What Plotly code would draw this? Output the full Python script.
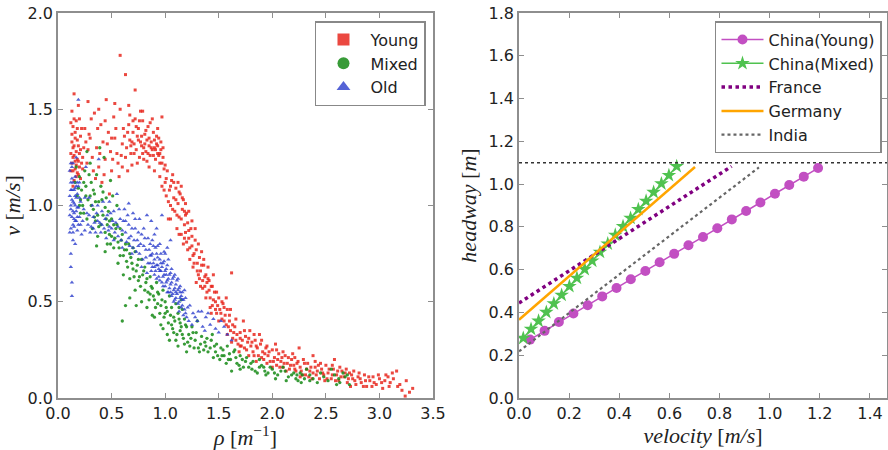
import plotly.graph_objects as go

# ---------------- Left panel data (density rho vs speed v) ----------------
young_rho = [0.13,0.14,0.15,0.16,0.14,0.13,0.15,0.17,0.18,0.16,0.19,0.20,0.21,0.17,0.22,0.18,0.15,0.24,0.23,0.26,0.19,0.14,0.20,0.25,0.28,0.16,
             0.30,0.32,0.34,0.36,0.38,0.40,0.42,0.44,0.45,0.47,0.49,0.50,0.52,0.53,0.55,0.56,0.58,0.58,0.63,0.72,0.35,0.41,0.28,0.48,0.60,0.61,
             0.62,0.64,0.66,0.67,0.68,0.70,0.71,0.72,0.73,0.74,0.75,0.76,0.77,0.78,0.79,0.80,0.81,0.82,0.83,0.84,0.85,0.86,0.87,0.88,0.89,0.90,
             0.91,0.92,0.93,0.94,0.95,0.96,0.98,0.99,0.88,0.69,0.65,0.97,
             0.95,0.97,1.00,1.01,1.02,1.04,1.05,1.06,1.08,1.09,1.10,1.12,1.13,1.14,1.16,1.17,1.18,1.20,1.03,1.11,
             1.15,1.17,1.19,1.21,1.22,1.23,1.25,1.26,1.27,1.28,1.30,1.31,1.32,1.33,1.35,1.36,1.37,1.38,1.24,1.29,
             1.39,1.40,1.42,1.43,1.44,1.46,1.47,1.48,1.50,1.51,1.53,1.54,1.56,1.57,1.58,1.60,1.62,1.45,
             1.61,1.63,1.65,1.67,1.68,1.70,1.72,1.74,1.75,1.77,1.79,1.80,1.82,1.84,1.86,1.87,1.89,1.91,1.92,1.94,1.96,1.98,2.00,2.02,2.04,2.06,
             2.08,2.10,2.12,2.14,2.16,2.18,1.73,1.88,2.03,1.69,
             2.20,2.22,2.24,2.26,2.28,2.30,2.32,2.34,2.36,2.38,2.40,2.42,2.44,2.46,2.48,2.50,2.52,2.55,2.57,2.60,2.62,2.65,2.67,2.70,2.72,2.75,
             2.78,2.38,2.25,2.58,
             2.80,2.83,2.86,2.88,2.91,2.94,2.97,3.00,3.03,3.06,3.10,3.13,3.17,3.21,3.25,3.28,3.31,3.16,3.24]
young_v = [1.22,1.30,1.26,1.35,1.41,1.49,1.58,1.28,1.24,1.19,1.31,1.27,1.36,1.44,1.22,1.17,1.13,1.30,1.25,1.33,1.52,1.10,1.20,1.40,1.29,1.38,
           1.35,1.25,1.48,1.30,1.20,1.42,1.33,1.24,1.55,1.38,1.28,1.18,1.46,1.35,1.27,1.22,1.50,1.78,1.68,1.60,1.14,1.12,1.54,1.06,1.32,1.40,
           1.36,1.30,1.42,1.34,1.27,1.38,1.32,1.45,1.29,1.36,1.40,1.25,1.33,1.31,1.44,1.30,1.37,1.28,1.34,1.41,1.31,1.26,1.33,1.29,1.38,1.30,
           1.24,1.32,1.27,1.35,1.22,1.29,1.25,1.19,1.45,1.21,1.18,1.46,
           1.15,1.10,1.12,1.05,1.18,1.08,1.00,1.13,1.04,0.97,1.09,1.01,0.94,1.06,0.98,1.03,0.90,0.96,0.93,0.88,
           0.85,0.80,0.86,0.77,0.83,0.72,0.79,0.68,0.75,0.82,0.70,0.64,0.73,0.66,0.61,0.69,0.58,0.64,0.88,0.60,
           0.55,0.62,0.52,0.58,0.48,0.55,0.50,0.44,0.52,0.46,0.41,0.49,0.43,0.38,0.46,0.40,0.65,0.64,
           0.35,0.31,0.37,0.33,0.28,0.34,0.30,0.26,0.32,0.29,0.35,0.27,0.24,0.30,0.26,0.22,0.28,0.24,0.20,0.26,0.22,0.19,0.25,0.21,0.17,0.23,
           0.19,0.16,0.22,0.18,0.15,0.20,0.40,0.33,0.28,0.24,
           0.17,0.14,0.19,0.16,0.12,0.18,0.15,0.11,0.16,0.13,0.19,0.14,0.10,0.15,0.12,0.17,0.13,0.10,0.15,0.12,0.09,0.14,0.11,0.08,0.13,0.10,
           0.07,0.22,0.26,0.20,
           0.11,0.08,0.12,0.06,0.09,0.11,0.07,0.10,0.05,0.12,0.08,0.10,0.06,0.04,0.09,0.03,0.05,0.14,0.01]
young_rho_b = [0.12,0.13,0.14,0.15,0.17,0.18,0.19,0.21,0.22,0.23,0.12,0.16,0.20,0.27,0.29,0.31,0.33,0.37,0.39,0.43,0.46,0.51,0.54,0.57,0.59,
               0.63,0.65,0.67,0.69,0.71,0.73,0.75,0.76,0.78,0.80,0.81,0.82,0.84,0.85,0.86,0.87,0.89,0.90,0.91,0.92,0.93,0.94,0.96,0.97,0.98,
               0.74,0.79,0.83,0.70,0.77,
               0.99,1.01,1.03,1.05,1.07,1.08,1.10,1.11,1.13,1.15,1.16,1.18,1.19,1.21,1.22,1.20,1.23,1.25,1.27,1.29,1.30,1.32,1.34,1.35,1.37,
               1.39,1.41,1.42,1.45,1.47,1.49,1.52,1.55,1.55,1.59,1.60,1.63,1.64,1.66,1.70,1.71,1.76,1.78,1.81,1.83,1.85,1.90,1.93,1.95,1.97,
               2.01,2.05,2.07,2.09,2.11,2.13,2.17,2.19,2.21,2.23,2.27,2.29,2.31,2.35,2.37,2.41,2.43,2.47,2.49,2.53,2.56,2.59,2.61,2.64,2.68,
               2.71,2.74,2.77,2.82,2.85,2.90,2.95,2.99,3.05,3.09,3.12]
young_v_b = [1.18,1.33,1.25,1.45,1.21,1.34,1.16,1.29,1.40,1.19,1.27,1.23,1.45,1.22,1.37,1.45,1.18,1.40,1.27,1.16,1.32,1.24,1.40,1.15,1.26,
             1.25,1.38,1.47,1.33,1.27,1.41,1.34,1.44,1.36,1.24,1.32,1.39,1.27,1.35,1.43,1.30,1.26,1.34,1.29,1.36,1.31,1.26,1.33,1.22,1.30,
             1.22,1.27,1.23,1.44,1.49,
             1.08,1.14,1.02,1.10,0.98,1.12,1.03,0.95,1.07,0.93,1.04,0.97,1.01,0.91,0.87,0.81,0.78,0.84,0.70,0.77,0.66,0.62,0.69,0.57,0.63,
             0.60,0.56,0.47,0.51,0.46,0.48,0.44,0.40,0.47,0.37,0.43,0.38,0.34,0.30,0.31,0.27,0.25,0.31,0.29,0.22,0.27,0.21,0.23,0.18,0.24,
             0.19,0.20,0.16,0.21,0.18,0.14,0.17,0.23,0.15,0.18,0.14,0.20,0.12,0.14,0.10,0.12,0.17,0.13,0.09,0.15,0.12,0.09,0.14,0.11,0.13,
             0.10,0.12,0.09,0.10,0.06,0.11,0.08,0.12,0.09,0.06,0.13]
young_rho_c = [1.05,1.12,1.07,1.15,1.19,1.22,1.25,1.28,1.13,1.18,1.26,1.31,1.34,1.36,1.40,1.33,1.38,1.41,1.44,1.48,1.43,1.50,1.53,1.57,1.61,
               1.58,1.62,1.66,1.70,1.74,1.78,1.83,1.85,1.90,1.95,2.00,2.04,2.10,2.15,2.21,2.26,2.33,2.40,2.45,2.51,2.56,2.63,2.69,2.76,2.81,
               2.87,2.93,3.02,3.08,3.19,2.73,0.85,0.90,0.95,1.00,0.93,0.68,0.60,0.44,0.50,0.38,0.53,0.66,0.79,0.13,0.14,0.17,0.15,0.19,0.21,
               0.18,0.12]
young_v_c = [0.93,1.12,1.16,1.10,0.95,0.97,0.92,0.88,0.85,0.83,0.74,0.80,0.76,0.72,0.68,0.58,0.52,0.61,0.58,0.55,0.44,0.40,0.50,0.52,0.46,
             0.33,0.29,0.41,0.27,0.35,0.22,0.33,0.19,0.30,0.27,0.16,0.25,0.24,0.21,0.21,0.11,0.18,0.16,0.18,0.10,0.17,0.16,0.15,0.14,0.13,
             0.09,0.06,0.08,0.11,0.07,0.06,1.20,1.18,1.27,1.21,1.40,1.31,1.20,1.44,1.35,1.50,1.53,1.52,1.49,1.37,1.18,1.15,1.31,1.23,1.14,
             1.40,1.43]

mixed_rho = [0.16,0.18,0.20,0.22,0.23,0.25,0.26,0.28,0.30,0.31,0.33,0.34,0.36,0.38,0.40,0.42,0.43,0.45,0.47,0.49,0.21,0.27,0.39,
             0.32,0.35,0.37,0.40,0.44,0.46,0.48,0.50,0.52,0.54,0.56,0.58,0.60,0.62,0.64,0.66,0.68,0.70,0.72,0.74,0.76,0.78,0.55,0.51,
             0.80,0.82,0.84,0.86,0.88,0.90,0.92,0.94,0.96,0.98,1.00,1.02,1.04,1.06,1.08,1.10,1.12,1.14,1.16,1.18,0.60,0.73,0.88,
             0.98,1.02,1.06,1.10,1.14,1.18,1.22,1.25,1.28,1.31,1.34,1.37,1.40,1.43,1.46,1.49,1.20,1.30,
             1.52,1.55,1.58,1.61,1.64,1.67,1.70,1.73,1.76,1.80,1.84,1.88,1.92,1.96,1.62,
             2.00,2.05,2.10,2.15,2.20,2.24,2.28,2.32,2.38,2.45,2.52,2.58,2.63,2.68,2.72,2.55]
mixed_v = [1.12,1.05,1.15,1.08,1.00,1.18,1.10,1.03,1.22,1.12,0.98,1.06,1.16,1.02,1.10,0.95,1.25,1.04,0.97,1.13,0.96,1.28,1.30,
           0.88,0.92,0.84,0.90,0.86,0.80,0.92,0.84,0.78,0.88,0.81,0.74,0.85,0.77,0.71,0.80,0.73,0.67,0.76,0.69,0.63,0.72,1.00,1.05,
           0.66,0.60,0.55,0.63,0.57,0.51,0.60,0.54,0.48,0.56,0.50,0.45,0.53,0.47,0.42,0.49,0.44,0.39,0.46,0.41,0.40,0.48,0.43,
           0.36,0.33,0.38,0.30,0.35,0.28,0.33,0.37,0.30,0.26,0.32,0.29,0.24,0.30,0.27,0.22,0.24,0.40,
           0.26,0.22,0.27,0.20,0.24,0.18,0.22,0.16,0.21,0.18,0.14,0.20,0.16,0.13,0.14,
           0.15,0.12,0.16,0.11,0.13,0.09,0.12,0.15,0.10,0.13,0.09,0.12,0.08,0.11,0.07,0.15]
mixed_rho_b = [0.17,0.19,0.21,0.24,0.26,0.29,0.31,0.33,0.35,0.37,0.41,0.44,0.46,0.48,0.50,0.53,0.55,0.57,0.59,0.61,0.63,0.65,0.67,0.69,
               0.71,0.73,0.75,0.77,0.79,0.81,0.83,0.85,0.87,0.89,0.91,0.93,0.95,0.97,0.99,1.01,1.03,1.05,1.07,1.09,1.11,1.13,1.15,1.17,
               1.19,1.21,1.24,1.27,1.29,1.33,1.36,1.39,1.42,1.45,1.48,1.51,1.54,1.57,1.60,1.66,1.69,1.72,1.78,1.82,1.86,1.90,1.94,1.98,
               2.03,2.08,2.13,2.18,2.22,2.26,2.30,2.35,2.42,2.48,2.62,2.66]
mixed_v_b = [1.20,1.09,1.03,1.12,1.05,1.16,1.00,1.08,1.02,0.95,1.03,0.99,0.90,0.85,0.93,0.83,0.90,0.78,0.82,0.74,0.80,0.68,0.75,0.70,
             0.63,0.66,0.72,0.58,0.64,0.56,0.62,0.51,0.58,0.53,0.47,0.55,0.44,0.51,0.42,0.47,0.39,0.43,0.36,0.40,0.33,0.41,0.37,0.31,
             0.38,0.29,0.31,0.26,0.34,0.28,0.25,0.31,0.26,0.21,0.28,0.20,0.25,0.18,0.23,0.21,0.17,0.20,0.16,0.19,0.13,0.17,0.12,0.16,
             0.10,0.14,0.09,0.12,0.10,0.13,0.10,0.12,0.08,0.11,0.10,0.13]
mixed_rho_c = [0.20,0.24,0.27,0.30,0.34,0.38,0.42,0.45,0.49,0.52,0.56,0.58,0.61,0.64,0.67,0.70,0.72,0.75,0.78,0.81,0.83,0.86,0.90,0.93,
               0.96,1.00,1.04,1.08,1.12,1.16,1.20,1.23,1.26,1.32,1.38,1.44,1.47,1.53,1.59,1.65,1.70,1.75,1.81,1.88,1.93,2.02,2.12,2.23,
               2.27,2.35,2.60,2.70,0.36,0.44,0.63,0.67,1.15,1.13]
mixed_v_c = [1.00,0.96,0.93,1.05,0.94,0.89,1.07,0.93,0.80,0.90,0.70,0.88,0.64,0.77,0.62,0.78,0.56,0.61,0.50,0.68,0.47,0.54,0.42,0.49,
             0.38,0.44,0.30,0.34,0.27,0.33,0.37,0.27,0.34,0.24,0.27,0.33,0.24,0.22,0.20,0.25,0.15,0.19,0.15,0.16,0.14,0.13,0.14,0.12,
             0.08,0.09,0.07,0.12,0.79,0.76,0.48,0.52,0.51,0.47]

old_rho = [0.11,0.12,0.12,0.13,0.13,0.14,0.14,0.15,0.15,0.16,0.16,0.17,0.17,0.18,0.18,0.19,0.19,0.20,0.13,0.13,0.12,0.14,0.19,0.11,0.16,
           0.21,0.23,0.25,0.27,0.29,0.31,0.33,0.35,0.37,0.39,0.41,0.43,0.26,0.22,0.30,0.38,
           0.46,0.48,0.50,0.52,0.54,0.56,0.58,0.60,0.62,0.64,0.66,0.68,0.70,0.72,0.74,0.76,0.78,0.80,0.82,0.84,0.55,0.70,0.83,
           0.85,0.86,0.87,0.88,0.89,0.90,0.91,0.92,0.93,0.94,0.95,0.96,0.97,0.98,0.99,1.00,1.01,1.02,1.03,1.04,1.05,1.06,1.07,1.08,
           1.09,1.10,1.11,1.12,1.13,1.14,1.15,1.16,0.95,1.00,
           1.18,1.20,1.23,1.26,1.30,1.34,1.38,1.42,1.47,1.52,1.58,1.62]
old_v = [1.05,0.98,1.12,0.94,1.20,1.02,0.90,1.08,0.96,1.15,1.00,0.92,1.25,1.06,0.87,0.99,1.10,0.94,0.60,0.53,0.75,0.82,1.55,1.18,0.80,
         1.02,0.92,0.87,0.96,1.04,0.89,0.94,0.86,1.00,0.91,0.97,0.88,1.20,0.85,0.86,1.24,
         0.95,1.02,0.88,0.97,0.91,0.84,0.93,0.87,0.98,0.81,0.90,0.84,0.78,0.88,0.82,0.75,0.85,0.79,0.73,0.83,1.06,0.96,0.95,
         0.77,0.70,0.74,0.68,0.79,0.72,0.66,0.75,0.69,0.63,0.72,0.66,0.60,0.70,0.64,0.58,0.67,0.61,0.55,0.64,0.59,0.53,0.62,0.56,
         0.51,0.59,0.54,0.49,0.57,0.52,0.47,0.55,0.80,0.75,
         0.46,0.42,0.48,0.44,0.40,0.45,0.42,0.38,0.36,0.40,0.33,0.30]
old_rho_b = [0.11,0.12,0.12,0.13,0.13,0.14,0.14,0.15,0.15,0.16,0.17,0.17,0.18,0.18,0.19,0.20,0.11,0.12,0.24,0.28,0.32,0.34,0.36,0.40,
             0.42,0.44,0.47,0.49,0.51,0.53,0.57,0.59,0.61,0.63,0.65,0.67,0.69,0.71,0.73,0.75,0.77,0.79,0.81,0.82,0.84,0.86,0.87,0.88,
             0.89,0.90,0.91,0.92,0.93,0.94,0.95,0.96,0.97,0.98,0.99,1.00,1.01,1.02,1.03,1.04,1.05,1.06,1.07,1.08,1.09,1.10,1.11,1.12,
             1.13,1.14,1.15,1.16,1.17,1.18,1.19,0.97,0.92,1.05,1.21,1.28,1.35,1.45,1.55]
old_v_b = [0.95,1.08,0.88,1.03,1.14,0.97,1.22,0.89,1.01,1.09,0.97,1.04,1.12,0.94,0.90,1.04,0.86,0.68,0.98,0.90,1.00,0.91,0.96,0.86,
           1.02,0.93,0.87,0.96,0.92,0.86,0.98,0.82,0.92,0.86,0.95,0.79,0.88,0.82,0.76,0.86,0.80,0.72,0.83,0.77,0.70,0.80,0.66,0.75,
           0.70,0.64,0.78,0.69,0.73,0.67,0.61,0.75,0.68,0.63,0.71,0.66,0.60,0.69,0.62,0.57,0.65,0.60,0.54,0.63,0.57,0.52,0.61,0.56,
           0.50,0.58,0.53,0.48,0.51,0.56,0.44,0.95,0.88,0.82,0.47,0.42,0.37,0.41,0.37]
old_rho_c = [0.12,0.13,0.14,0.15,0.16,0.17,0.18,0.20,0.21,0.14,0.12,0.16,0.25,0.29,0.33,0.37,0.41,0.45,0.48,0.52,0.56,0.60,0.63,0.66,
             0.69,0.72,0.75,0.78,0.80,0.83,0.86,0.88,0.90,0.92,0.93,0.95,0.96,0.98,0.99,1.01,1.02,1.03,1.05,1.06,1.08,1.09,1.10,1.12,
             1.13,1.14,1.16,1.17,1.19,1.22,1.25,1.31,1.37,1.40,1.50,0.87,0.90,1.02,0.76,0.66]
old_v_c = [1.00,1.08,1.12,0.93,1.05,1.10,0.99,1.12,0.90,0.86,1.22,0.92,1.04,0.95,0.88,0.92,0.90,0.83,0.89,0.82,0.89,0.78,0.92,0.83,
           0.75,0.93,0.79,0.68,0.88,0.65,0.74,0.82,0.68,0.62,0.79,0.66,0.70,0.58,0.76,0.64,0.55,0.72,0.55,0.67,0.50,0.64,0.55,0.62,
           0.45,0.55,0.51,0.43,0.52,0.40,0.38,0.45,0.35,0.44,0.34,0.92,0.85,0.78,0.93,1.01]

# ---------------- Right panel data (velocity vs headway) ----------------
cy_vel = [0.044,0.102,0.159,0.217,0.274,0.332,0.389,0.446,0.504,0.561,0.619,0.676,0.734,0.791,0.849,0.906,0.963,1.021,1.078,1.136,1.193]
cy_head = [0.273,0.314,0.355,0.395,0.434,0.475,0.514,0.555,0.594,0.635,0.674,0.714,0.753,0.794,0.835,0.874,0.914,0.955,0.996,1.035,1.075]

cm_vel = [0.017,0.048,0.078,0.109,0.139,0.170,0.201,0.231,0.262,0.292,0.323,0.354,0.384,0.415,0.445,0.476,0.507,0.537,0.568,0.598,0.629]
cm_head = [0.280,0.322,0.360,0.401,0.441,0.481,0.522,0.561,0.602,0.641,0.682,0.721,0.762,0.802,0.841,0.882,0.921,0.962,1.002,1.041,1.083]

fr_vel = [0.0, 0.848]
fr_head = [0.444, 1.083]
de_vel = [0.0, 0.702]
de_head = [0.366, 1.080]
in_vel = [0.0, 0.957]
in_head = [0.218, 1.078]
max_headway = 1.1

AX_LINE = "#8e8e8e"
TICK_FONT = dict(family="DejaVu Sans", size=16, color="#222222")
TITLE_FONT = dict(family="Liberation Serif", size=22, color="#222222")
MS = 3.0

fig = go.Figure()

# left scatter
fig.add_trace(go.Scatter(x=young_rho + young_rho_b + young_rho_c, y=young_v + young_v_b + young_v_c,
                         mode="markers", name="Young",
                         marker=dict(symbol="square", size=MS, color="#e8281e", opacity=0.85),
                         xaxis="x", yaxis="y", legend="legend"))
fig.add_trace(go.Scatter(x=mixed_rho + mixed_rho_b + mixed_rho_c, y=mixed_v + mixed_v_b + mixed_v_c,
                         mode="markers", name="Mixed",
                         marker=dict(symbol="circle", size=MS + 0.3, color="#158a15", opacity=0.85),
                         xaxis="x", yaxis="y", legend="legend"))
fig.add_trace(go.Scatter(x=old_rho + old_rho_b + old_rho_c, y=old_v + old_v_b + old_v_c,
                         mode="markers", name="Old",
                         marker=dict(symbol="triangle-up", size=MS + 1.0, color="#2a3ccc", opacity=0.8),
                         xaxis="x", yaxis="y", legend="legend"))

# right lines
fig.add_trace(go.Scatter(x=cy_vel, y=cy_head, mode="lines+markers", name="China(Young)",
                         line=dict(color="#c24fc2", width=1.5),
                         marker=dict(symbol="circle", size=10, color="#c24fc2"),
                         xaxis="x2", yaxis="y2", legend="legend2"))
fig.add_trace(go.Scatter(x=cm_vel, y=cm_head, mode="lines+markers", name="China(Mixed)",
                         line=dict(color="#4fc24f", width=1.5),
                         marker=dict(symbol="star", size=11, color="#4fc24f"),
                         xaxis="x2", yaxis="y2", legend="legend2"))
fig.add_trace(go.Scatter(x=fr_vel, y=fr_head, mode="lines", name="France",
                         line=dict(color="#800080", width=3.5, dash="dot"),
                         xaxis="x2", yaxis="y2", legend="legend2"))
fig.add_trace(go.Scatter(x=de_vel, y=de_head, mode="lines", name="Germany",
                         line=dict(color="#ffa500", width=2.5),
                         xaxis="x2", yaxis="y2", legend="legend2"))
fig.add_trace(go.Scatter(x=in_vel, y=in_head, mode="lines", name="India",
                         line=dict(color="#666666", width=2.2, dash="dot"),
                         xaxis="x2", yaxis="y2", legend="legend2"))

fig.add_shape(type="line", xref="x2 domain", yref="y2", x0=0, x1=1,
              y0=max_headway, y1=max_headway,
              line=dict(color="#333333", width=1.5, dash="dot"))

common_axis = dict(showline=True, linecolor=AX_LINE, linewidth=1.5, mirror="ticks",
                   ticks="inside", ticklen=5, tickcolor=AX_LINE, showgrid=False,
                   zeroline=False, tickfont=TICK_FONT)

fig.update_layout(
    width=888, height=450,
    margin=dict(l=58, r=1, t=13, b=52, autoexpand=False),
    paper_bgcolor="white", plot_bgcolor="white",
    xaxis=dict(domain=[0, 0.4524], range=[0, 3.5], dtick=0.5, tickformat=".1f",
               anchor="y",
               title=dict(text="<i>ρ</i> [<i>m</i><sup>−1</sup>]", font=TITLE_FONT, standoff=4),
               **common_axis),
    yaxis=dict(domain=[0, 1], range=[0, 2.0], dtick=0.5, tickformat=".1f", anchor="x",
               title=dict(text="<i>v</i> [<i>m/s</i>]", font=TITLE_FONT, standoff=10),
               **common_axis),
    xaxis2=dict(domain=[0.5561, 1.0], range=[0, 1.468], dtick=0.2, tickformat=".1f",
                anchor="y2",
                title=dict(text="<i>velocity</i> [<i>m/s</i>]", font=TITLE_FONT, standoff=4),
                **common_axis),
    yaxis2=dict(domain=[0, 1], range=[0, 1.8], dtick=0.2, tickformat=".1f", anchor="x2",
                title=dict(text="<i>headway</i> [<i>m</i>]", font=TITLE_FONT, standoff=6),
                **common_axis),
    legend=dict(x=0.31, y=0.979, xanchor="left", yanchor="top",
                bgcolor="white", bordercolor="#888888", borderwidth=1.5,
                font=dict(family="DejaVu Sans", size=16, color="#222222"),
                itemsizing="constant", itemwidth=44),
    legend2=dict(x=0.7925, y=0.979, xanchor="left", yanchor="top",
                 bgcolor="white", bordercolor="#888888", borderwidth=1.5,
                 font=dict(family="DejaVu Sans", size=16, color="#222222"),
                 itemsizing="trace", itemwidth=42),
)

fig.write_html("out.html")
